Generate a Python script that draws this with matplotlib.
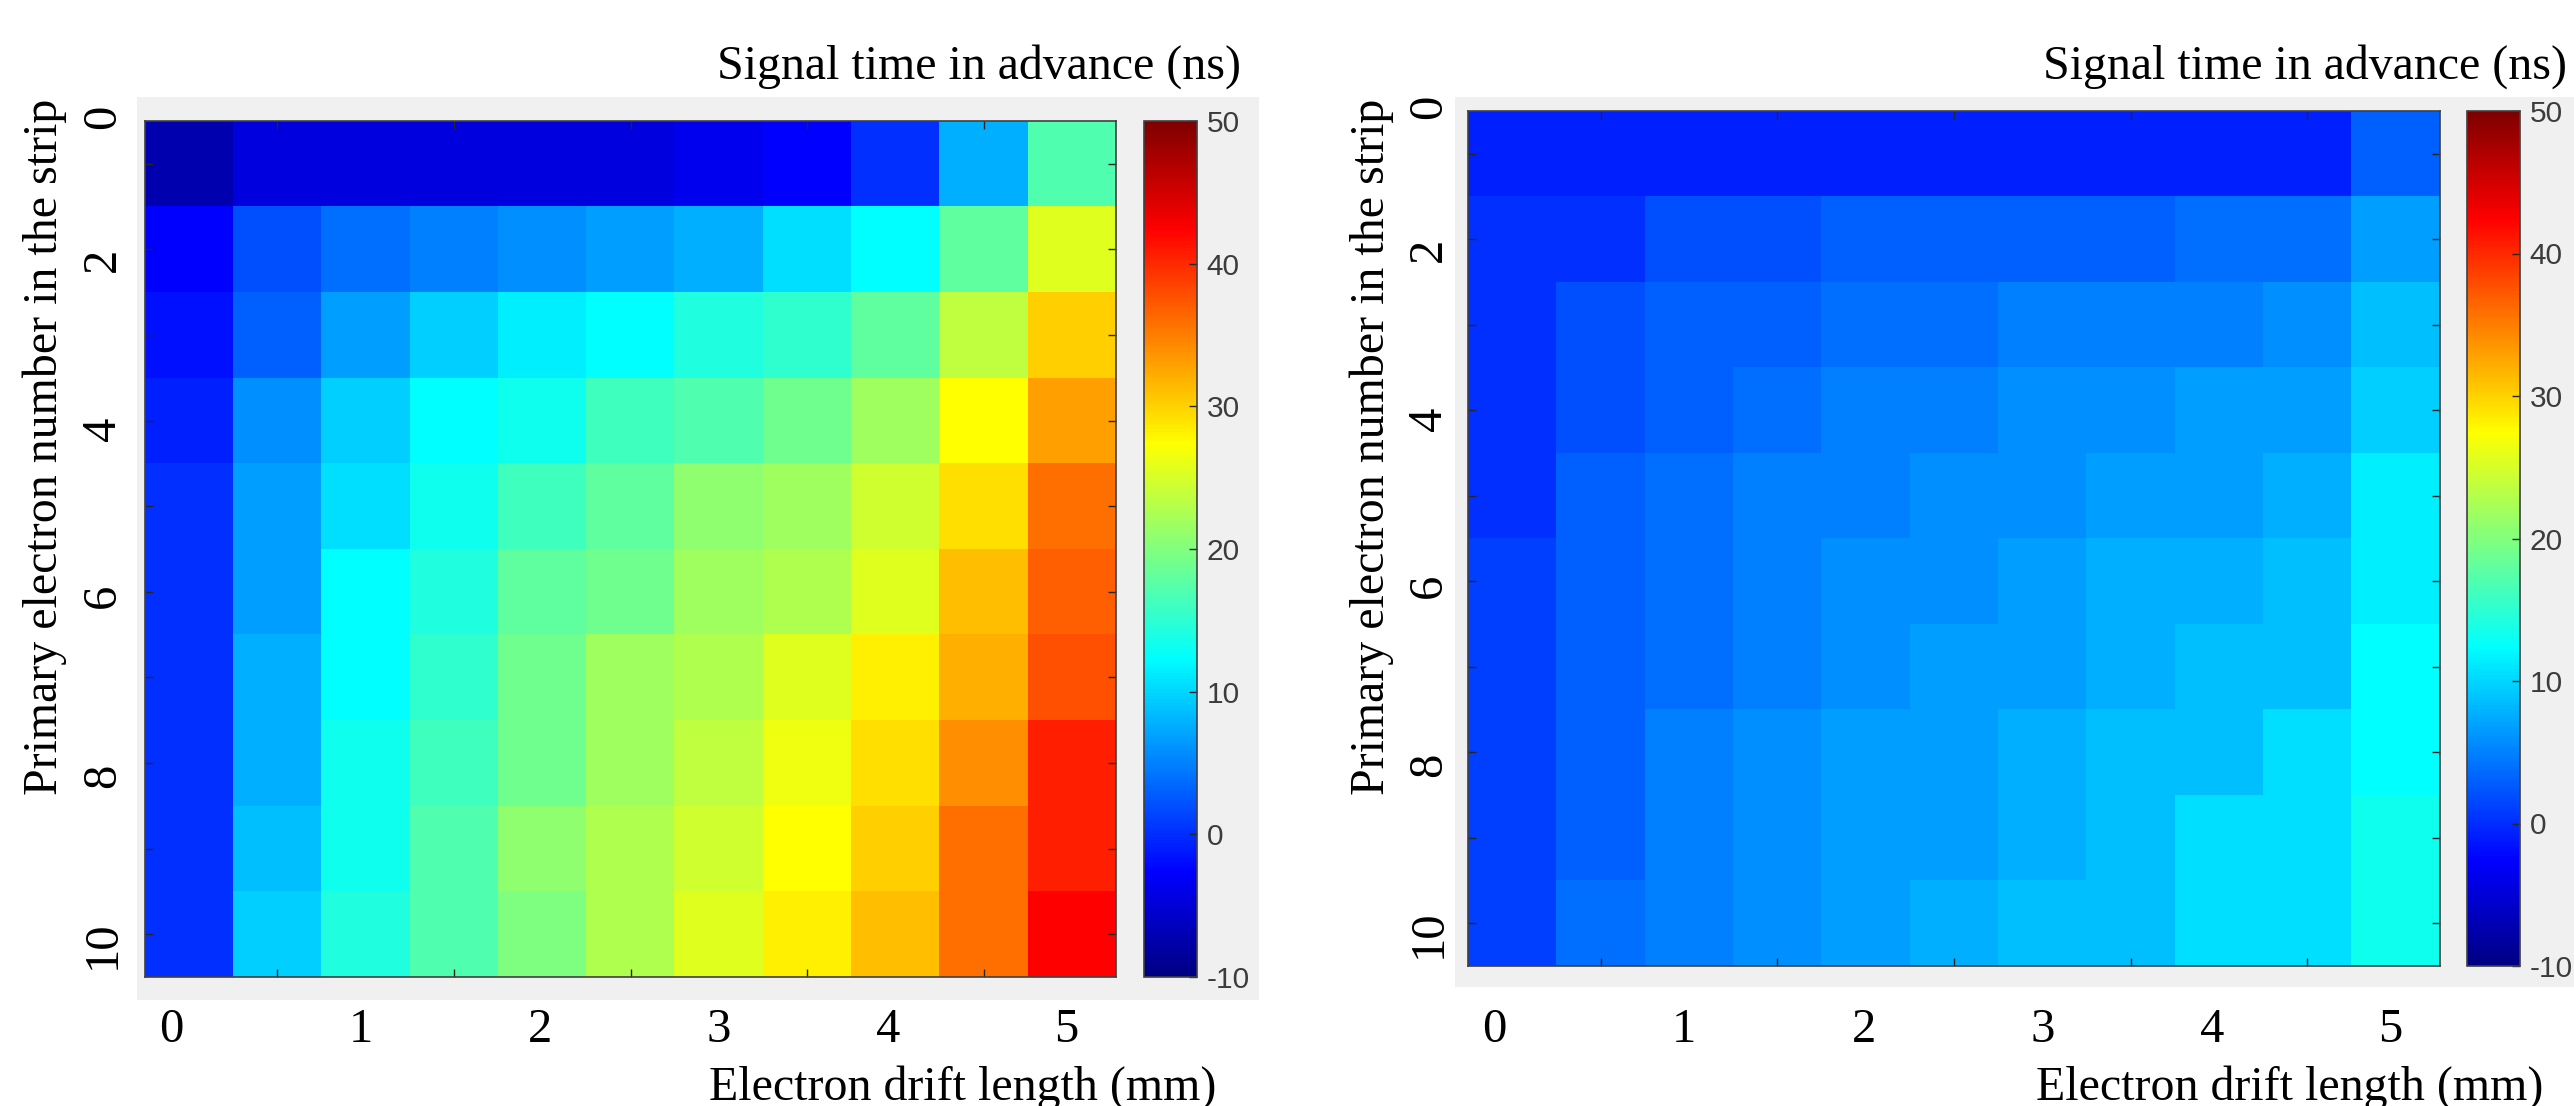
import numpy as np
import matplotlib
matplotlib.use("Agg")
import matplotlib.pyplot as plt
import matplotlib.transforms as mtransforms
from matplotlib.cm import ScalarMappable
from matplotlib.colors import ListedColormap, Normalize
from matplotlib.patches import Rectangle

plt.rcParams["axes.unicode_minus"] = False

W, H = 2574, 1106

# drift length of each column (mm) and electron index of each row
drift_mm = [0, 0.5, 1, 1.5, 2, 2.5, 3, 3.5, 4, 4.5, 5]
electron_no = [1, 2, 3, 4, 5, 6, 7, 8, 9, 10]

# signal time in advance (ns), rows = electron number, cols = drift length
advance_left = [
    [-7.7, -4.8, -4.8, -4.8, -4.8, -4.8, -3.9, -3.0, -0.1, 7.4, 16.7],
    [-3.0, 1.3, 3.2, 4.6, 5.3, 6.0, 6.9, 9.7, 11.8, 17.7, 24.7],
    [-2.0, 2.7, 6.4, 8.8, 10.7, 12.0, 13.9, 14.9, 17.7, 22.9, 29.8],
    [-1.1, 5.0, 8.8, 11.6, 13.4, 15.8, 16.7, 18.6, 21.4, 26.6, 32.6],
    [-0.6, 6.4, 9.7, 12.5, 15.8, 17.7, 20.0, 21.0, 23.8, 28.9, 35.0],
    [-0.6, 6.4, 11.6, 13.9, 17.2, 18.6, 21.4, 21.9, 25.2, 30.8, 36.4],
    [-0.1, 6.9, 11.6, 14.9, 18.2, 21.0, 22.4, 24.7, 27.9, 32.1, 37.3],
    [-0.1, 7.4, 12.5, 15.8, 18.6, 21.4, 23.3, 25.7, 28.9, 34.0, 39.7],
    [-0.1, 8.3, 12.5, 16.7, 20.0, 22.4, 24.3, 26.6, 29.8, 35.0, 40.6],
    [0.3, 8.8, 13.9, 16.7, 19.5, 21.9, 25.2, 27.9, 30.8, 35.9, 41.6],
]

advance_right = [
    [-1.1, -1.1, -1.1, -1.1, -1.1, -1.1, -1.1, -1.1, -1.1, -1.1, 2.7],
    [-0.2, -0.2, 1.7, 1.7, 2.7, 2.7, 2.7, 2.7, 3.6, 3.6, 6.4],
    [-0.2, 1.7, 2.7, 2.7, 3.6, 3.6, 4.5, 4.5, 4.5, 5.5, 8.3],
    [-0.2, 1.7, 2.7, 3.6, 4.5, 4.5, 5.5, 5.5, 6.4, 6.4, 9.2],
    [-0.2, 2.7, 3.6, 4.5, 4.5, 5.5, 5.5, 6.4, 6.4, 7.3, 11.1],
    [0.8, 2.7, 3.6, 4.5, 5.5, 5.5, 6.4, 7.3, 7.3, 8.3, 11.1],
    [0.8, 2.7, 3.6, 4.5, 5.5, 6.4, 6.4, 7.3, 8.3, 8.3, 12.0],
    [0.8, 2.7, 4.5, 5.5, 6.4, 6.4, 7.3, 8.3, 8.3, 10.2, 12.0],
    [0.8, 2.7, 4.5, 5.5, 6.4, 6.4, 7.3, 8.3, 10.2, 10.2, 13.0],
    [0.8, 3.6, 4.5, 5.5, 6.4, 7.3, 8.3, 8.3, 10.2, 10.2, 13.0],
]

x_labels = ["0", "1", "2", "3", "4", "5"]
x_label_pos = [-0.1, 0.97, 1.99, 3.0, 3.96, 4.97]
y_labels = ["0", "2", "4", "6", "8", "10"]
y_label_pos = [0.45, 2.12, 4.1, 6.05, 8.15, 10.12]
cbar_ticks = [-10, 0, 10, 20, 30, 40, 50]
clim = (-10, 50)

SERIF = "Liberation Serif"
SANS = "Liberation Sans"


def matlab_jet(n=64):
    # same construction as MATLAB's jet(n)
    m = int(np.ceil(n / 4))
    u = np.concatenate([np.arange(1, m + 1) / m, np.ones(m - 1), np.arange(m, 0, -1) / m])
    g = int(np.ceil(m / 2)) - (n % 4 == 1) + np.arange(1, len(u) + 1)
    r = g + m
    b = g - m
    g = g[g <= n]
    r = r[r <= n]
    b = b[b >= 1]
    J = np.zeros((n, 3))
    J[r - 1, 0] = u[:len(r)]
    J[g - 1, 1] = u[:len(g)]
    J[b - 1, 2] = u[len(u) - len(b):]
    return ListedColormap(J)


JET = matlab_jet(64)
JET_SMOOTH = matlab_jet(256)


def frac(x0, y0, x1, y1):
    return [x0 / W, 1 - y1 / H, (x1 - x0) / W, (y1 - y0) / H]


def draw_panel(fig, data, p):
    gx0, gy0, gx1, gy1 = p["gray"]
    fig.add_artist(Rectangle((gx0 / W, 1 - gy1 / H), (gx1 - gx0) / W, (gy1 - gy0) / H,
                             transform=fig.transFigure, facecolor="#f0f0f0",
                             edgecolor="none", zorder=-1))

    ax = fig.add_axes(frac(*p["heat"]))
    ext = (drift_mm[0] - 0.25, drift_mm[-1] + 0.25, electron_no[-1] + 0.5, electron_no[0] - 0.5)
    ax.imshow(np.array(data), cmap=JET, vmin=clim[0], vmax=clim[1], aspect="auto",
              interpolation="nearest", extent=ext)
    ax.set_xticks(drift_mm[1::2])
    ax.set_yticks(electron_no)
    ax.tick_params(direction="in", length=6, width=1, color="#262626", top=True, right=True,
                   labelbottom=False, labelleft=False)
    for s in ax.spines.values():
        s.set_color("#404040")
        s.set_linewidth(1.2)

    cax = fig.add_axes(frac(*p["cbar"]))
    sm = ScalarMappable(norm=Normalize(*clim), cmap=JET_SMOOTH)
    cb = fig.colorbar(sm, cax=cax, ticks=cbar_ticks)
    cb.outline.set_edgecolor("#404040")
    cb.outline.set_linewidth(1.2)
    cax.tick_params(direction="in", length=6, width=1, color="#262626", labelsize=21.5,
                    labelcolor="#3c3c3c", pad=7)
    for t in cax.get_yticklabels():
        t.set_family(SANS)

    # tick numbers drawn outside the grey frame
    xt = mtransforms.blended_transform_factory(ax.transData, fig.transFigure)
    for pos, lab in zip(x_label_pos, x_labels):
        ax.text(pos, 1 - 1042 / H, lab, transform=xt, ha="center", va="baseline",
                fontsize=35, family=SERIF)
    yt = mtransforms.blended_transform_factory(fig.transFigure, ax.transData)
    for pos, lab in zip(y_label_pos, y_labels):
        ax.text(p["ytick_x"] / W, pos, lab, transform=yt, ha="center", va="center",
                rotation=90, fontsize=35, family=SERIF)

    fig.text(p["title_x"] / W, 1 - 79 / H, "Signal time in advance (ns)", ha="right",
             va="baseline", fontsize=34.5, family=SERIF)
    fig.text(p["xlabel_x"] / W, 1 - 1100 / H, "Electron drift length (mm)", ha="right",
             va="baseline", fontsize=34.5, family=SERIF)
    fig.text(p["ylabel_x"] / W, 1 - 99 / H, "Primary electron number in the strip",
             ha="center", va="top", rotation=90, fontsize=34.5, family=SERIF)


left = dict(gray=(137, 97, 1259, 1000), heat=(145, 121, 1116, 977), cbar=(1144, 121, 1197, 977),
            title_x=1241, xlabel_x=1216, ylabel_x=45, ytick_x=103)
right = dict(gray=(1455, 97, 2574, 987), heat=(1468, 111, 2440, 966), cbar=(2467, 111, 2520, 966),
             title_x=2567, xlabel_x=2543, ylabel_x=1372, ytick_x=1429)

fig = plt.figure(figsize=(W / 100, H / 100), dpi=100)
draw_panel(fig, advance_left, left)
draw_panel(fig, advance_right, right)
fig.savefig("out.png", dpi=100, facecolor="white")
